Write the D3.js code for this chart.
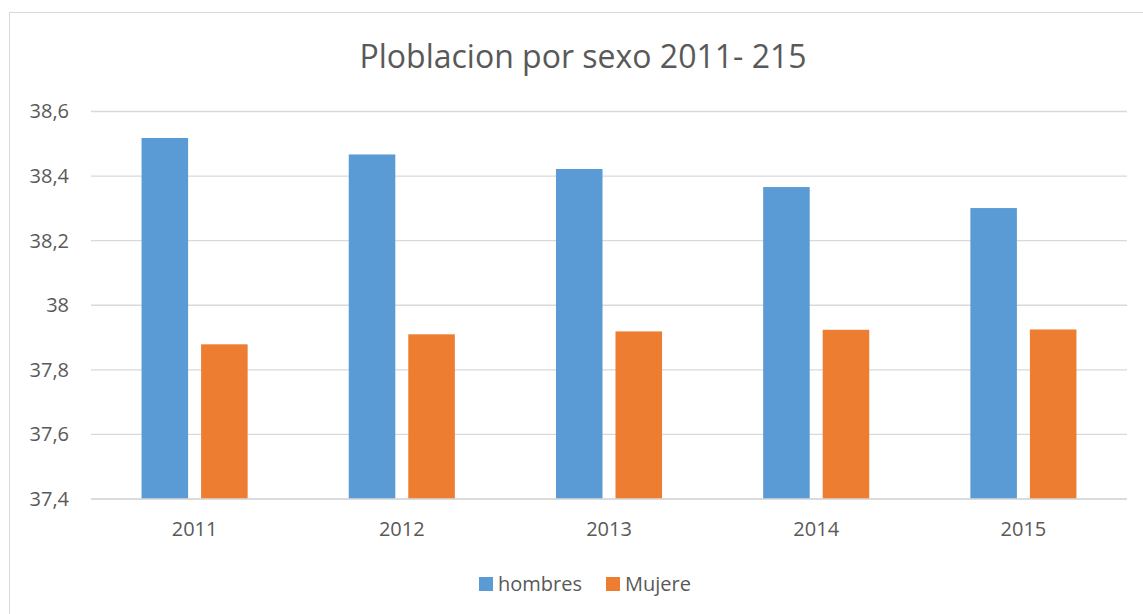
<!DOCTYPE html>
<html>
<head>
<meta charset="utf-8">
<script src="https://cdn.jsdelivr.net/npm/d3@7"></script>
<style>
  body { margin: 0; background: #fff; }
  text { font-family: "Open Sans", sans-serif; fill: #595959; }
</style>
</head>
<body>
<div id="bar"></div>
<script>
// data
const years = ["2011", "2012", "2013", "2014", "2015"];
const hombres = [38.518, 38.467, 38.422, 38.366, 38.301];
const mujere = [37.879, 37.910, 37.919, 37.924, 37.925];
const seriesNames = ["hombres", "Mujere"];
const yTicks = [37.4, 37.6, 37.8, 38, 38.2, 38.4, 38.6];
const title = "Ploblacion por sexo 2011- 215";

const W = 1143, H = 614;
const margin = { top: 111.5, right: 16, bottom: 115, left: 91 };
const width = W - margin.left - margin.right;
const height = H - margin.top - margin.bottom;

const svg = d3.select("#bar")
  .append("svg")
  .attr("width", W)
  .attr("height", H);

// chart frame (runs off the right and bottom of the picture)
svg.append("rect")
  .attr("x", 9.5).attr("y", 12.5)
  .attr("width", 1160).attr("height", 640)
  .attr("fill", "#fff")
  .attr("stroke", "#d9d9d9");

svg.append("text")
  .attr("x", 583).attr("y", 68)
  .attr("text-anchor", "middle")
  .style("font-size", "32px")
  .text(title);

const g = svg.append("g")
  .attr("transform", `translate(${margin.left},${margin.top})`);

const y = d3.scaleLinear().domain([37.4, 38.6]).range([height, 0]);
const fmt = d => String(+d.toFixed(1)).replace(".", ",");

// gridlines
g.append("g")
  .selectAll("line")
  .data(yTicks)
  .join("line")
  .attr("x1", 0).attr("x2", width)
  .attr("y1", d => y(d)).attr("y2", d => y(d))
  .attr("stroke", "#d9d9d9")
  .attr("stroke-width", 1.3);

// y axis labels
const yAxis = g.append("g")
  .call(d3.axisLeft(y).tickValues(yTicks).tickFormat(fmt).tickSize(0).tickPadding(22));
yAxis.select(".domain").remove();
yAxis.selectAll("text").style("font-size", "20px").attr("fill", "#595959");

const x = d3.scaleBand().domain(years).range([0, width]).paddingInner(0.488).paddingOuter(0.244);
const xSub = d3.scaleBand().domain(seriesNames).range([0, x.bandwidth()]).paddingInner(0.218);
const color = d3.scaleOrdinal().domain(seriesNames).range(["#5b9bd5", "#ed7d31"]);

const xAxis = g.append("g")
  .attr("transform", `translate(0,${height})`)
  .call(d3.axisBottom(x).tickSize(0).tickPadding(23));
xAxis.select(".domain").remove();
xAxis.selectAll("text").style("font-size", "20px").attr("fill", "#595959");

const rows = years.map((yr, i) => ({ year: yr, hombres: hombres[i], Mujere: mujere[i] }));

g.append("g")
  .selectAll("g")
  .data(rows)
  .join("g")
  .attr("transform", d => `translate(${x(d.year)},0)`)
  .selectAll("rect")
  .data(d => seriesNames.map(k => ({ key: k, value: d[k] })))
  .join("rect")
  .attr("x", d => xSub(d.key))
  .attr("y", d => y(d.value))
  .attr("width", xSub.bandwidth())
  .attr("height", d => height - y(d.value))
  .attr("fill", d => color(d.key));

// bottom baseline redrawn over bars
g.append("line")
  .attr("x1", 0).attr("x2", width)
  .attr("y1", height).attr("y2", height)
  .attr("stroke", "#d9d9d9")
  .attr("stroke-width", 1.3);

// legend
const legend = svg.append("g").attr("transform", "translate(479,577)");
const items = legend.selectAll("g")
  .data(seriesNames)
  .join("g")
  .attr("transform", (d, i) => `translate(${i * 127},0)`);
items.append("rect")
  .attr("width", 14).attr("height", 14)
  .attr("fill", d => color(d));
items.append("text")
  .attr("x", 19).attr("y", 14)
  .style("font-size", "20px")
  .text(d => d);
</script>
</body>
</html>
